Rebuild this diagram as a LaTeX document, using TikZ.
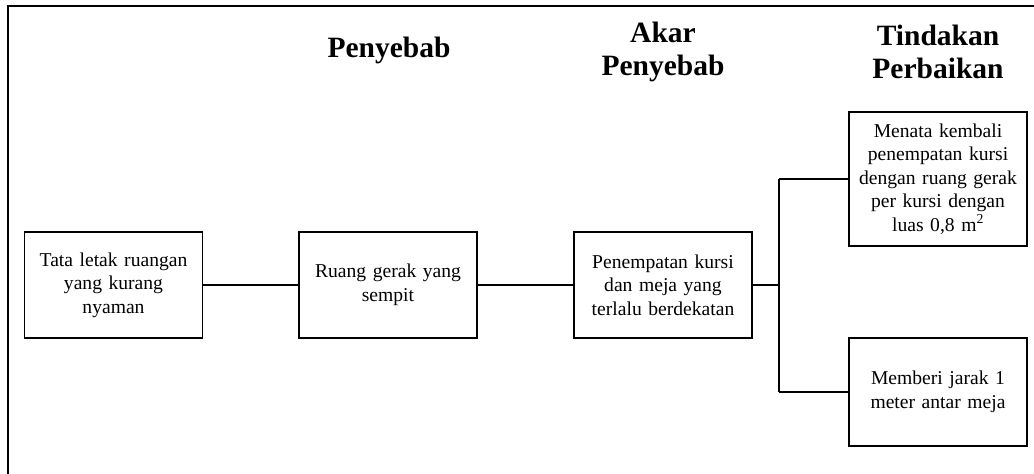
\documentclass[tikz,border=0pt]{standalone}
\usepackage{fontspec}
\setmainfont{Liberation Serif}
\begin{document}
\begin{tikzpicture}[x=1pt,y=-1pt,
  box/.style={draw, line width=1.2pt, minimum width=178pt, text width=172pt, align=center, inner sep=0pt,
    font=\fontsize{19.6}{23.5}\selectfont},
  head/.style={align=center, inner sep=0pt, font=\fontsize{29.5}{33.5}\selectfont\bfseries},
  conn/.style={line width=1.5pt},
  jconn/.style={line width=2pt}]
\useasboundingbox (0,0) rectangle (1034,474);
% frame
\draw[line width=2.2pt] (8,474) -- (8,6) -- (1034,6);
% headers
\node[head] (h1) at (389,50) {Penyebab};
\node[head] (h2) at (663,52) {Akar\\Penyebab};
\node[head] (h3) at (938,52) {Tindakan\\Perbaikan};
% boxes
\node[box, minimum height=106pt] (b1) at (113.5,285) {Tata letak ruangan\\yang kurang\\nyaman};
\node[box, minimum height=106pt] (b2) at (388,285) {Ruang gerak yang\\sempit};
\node[box, minimum height=106pt] (b3) at (663,285) {Penempatan kursi\\dan meja yang\\terlalu berdekatan};
\node[box, minimum height=134pt] (b4) at (938,179) {Menata kembali\\penempatan kursi\\dengan ruang gerak\\per kursi dengan\\luas 0,8 m\textsuperscript{2}};
\node[box, minimum height=108pt] (b5) at (938,392) {Memberi jarak 1\\meter antar meja};
\coordinate (j) at (779,285);
% connectors
\draw[conn] (b1) -- (b2);
\draw[conn] (b2) -- (b3);
\draw[jconn] (b3) -- (j);
\draw[jconn] (b4.west -| j) -- (b5.west -| j);
\draw[conn] (b4.west -| j) -- (b4.west);
\draw[conn] (b5.west -| j) -- (b5.west);
\end{tikzpicture}
\end{document}
